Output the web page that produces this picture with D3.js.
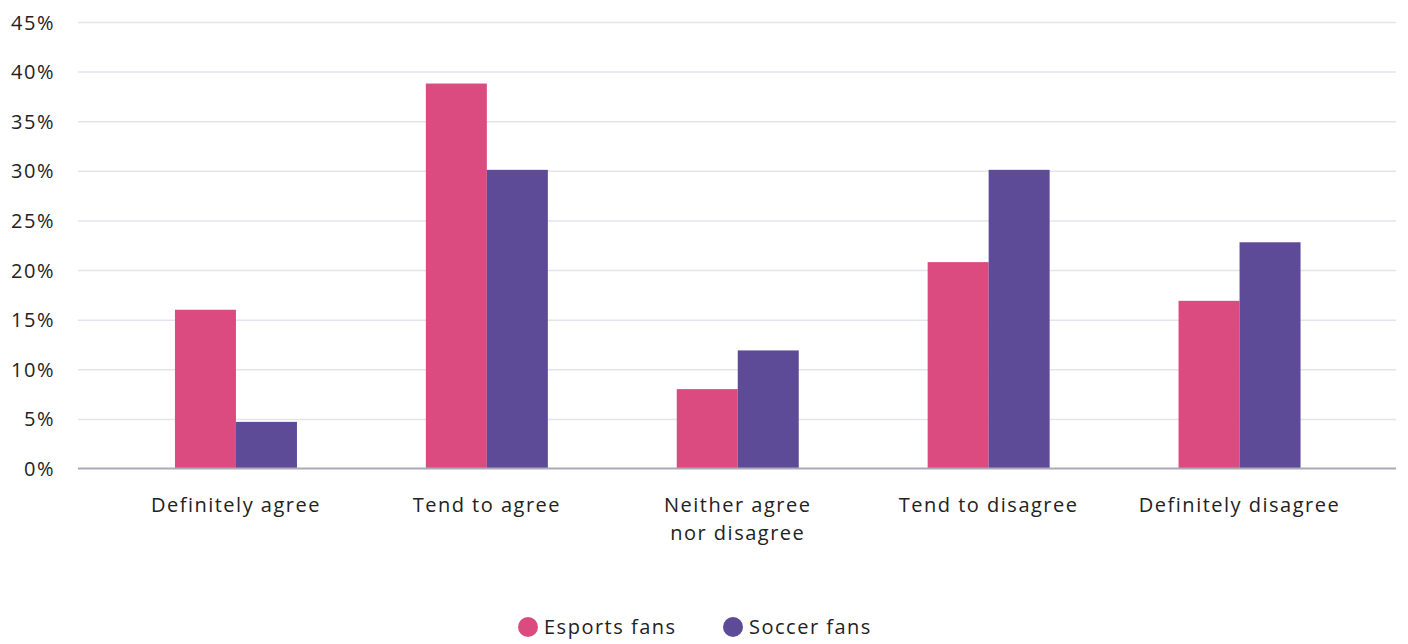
<!DOCTYPE html>
<html><head><meta charset="utf-8">
<script src="https://cdn.jsdelivr.net/npm/d3@7"></script>
<style>
body{margin:0;background:#fff;}
text{font-family:"Open Sans",sans-serif;fill:#222;letter-spacing:1.5px;}
</style></head>
<body><svg id="c" width="1408" height="644"></svg>
<script>
const categories = [["Definitely agree"],["Tend to agree"],["Neither agree","nor disagree"],["Tend to disagree"],["Definitely disagree"]];
const seriesNames = ["Esports fans","Soccer fans"];
const esports = [16, 38.8, 8, 20.8, 16.9];
const soccer = [4.7, 30.1, 11.9, 30.1, 22.8];
const yTicks = [0,5,10,15,20,25,30,35,40,45];
const colors = ["#dc4b7f","#5e4b97"];

const svg = d3.select("#c");
const catKeys = categories.map(c=>c.join(" "));
const y = d3.scaleLinear().domain([0,45]).range([468.5,22]);
const x0 = d3.scaleBand().domain(catKeys).range([110.5,1365]);
const x1 = d3.scaleBand().domain(seriesNames).range([0,122]);

// grid
const yAxis = d3.axisLeft(y).tickValues(yTicks).tickSize(-1318).tickFormat(d=>d+"%").tickPadding(24);
const ga = svg.append("g").attr("transform","translate(78,0)").call(yAxis);
ga.select(".domain").remove();
ga.selectAll(".tick line").attr("stroke","#e6e3ef").attr("stroke-width",1.5);
ga.selectAll(".tick text").style("font-size","20px").attr("fill","#222").attr("x",-23).attr("dy","0.35em");
ga.selectAll(".tick").filter(d=>d===0).select("line").remove();

// bars
const data = catKeys.map((k,i)=>({k, vals:[esports[i], soccer[i]]}));
const groups = svg.append("g").selectAll("g").data(data).join("g")
  .attr("transform", d=>`translate(${x0(d.k)+x0.bandwidth()/2-61},0)`);
groups.selectAll("rect").data(d=>d.vals.map((v,j)=>({v,s:seriesNames[j],j}))).join("rect")
  .attr("x", d=>x1(d.s)).attr("width", x1.bandwidth())
  .attr("y", d=>y(d.v)).attr("height", d=>y(0)-y(d.v))
  .attr("fill", d=>colors[d.j]);

// baseline
svg.append("line").attr("x1",78).attr("x2",1396).attr("y1",y(0)).attr("y2",y(0))
  .attr("stroke","#aba9b8").attr("stroke-width",2);

// category labels
const xl = svg.append("g");
categories.forEach((lines,i)=>{
  const cx = x0(catKeys[i])+x0.bandwidth()/2;
  const t = xl.append("text").attr("x", cx).attr("y",512)
    .attr("text-anchor","middle").style("font-size","20px");
  lines.forEach((l,j)=>t.append("tspan").attr("x", cx).attr("dy", j===0?0:28).text(l));
});

// legend
const legX = [528, 733];
seriesNames.forEach((s,i)=>{
  svg.append("circle").attr("cx",legX[i]).attr("cy",627).attr("r",10).attr("fill",colors[i]);
  svg.append("text").attr("x",legX[i]+16).attr("y",634).style("font-size","20px").text(s);
});
</script></body></html>
